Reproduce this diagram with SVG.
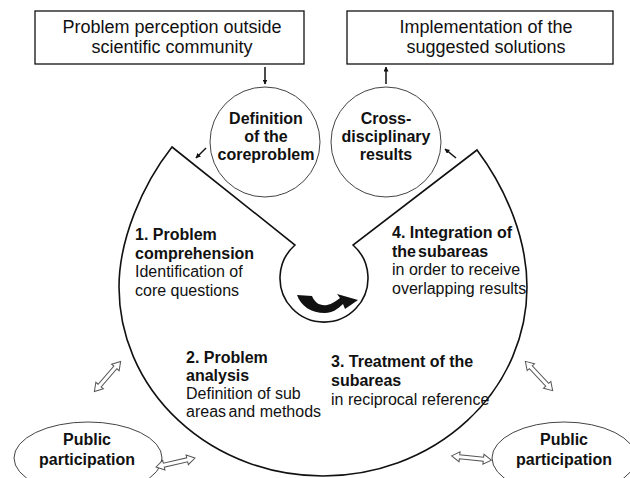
<svg xmlns="http://www.w3.org/2000/svg" width="630" height="478" viewBox="0 0 630 478">
<style>
text{font-family:"Liberation Sans",Arial,sans-serif;fill:#111}
.box{font-size:18px}
.b{font-size:16px;font-weight:bold}
.r{font-size:16px}
.rect{fill:#fff;stroke:#111;stroke-width:1.3}
.circ{fill:#fff;stroke:#444;stroke-width:1}
.thin{stroke:#111;stroke-width:1.5;fill:none}
.dbl{fill:#fff;stroke:#555;stroke-width:1}
</style>
<defs>
<marker id="ah" viewBox="0 0 10 10" refX="9" refY="5" markerWidth="5" markerHeight="5" orient="auto" markerUnits="userSpaceOnUse">
<path d="M0,0 L10,5 L0,10 Z" fill="#111"/>
</marker>
<path id="darr" d="M-20,0 L-12,-5 L-12,-2 L12,-2 L12,-5 L20,0 L12,5 L12,2 L-12,2 L-12,5 Z"/>
</defs>
<rect width="630" height="478" fill="#fff"/>

<g id="big-process">
<path d="M172,147 C142,185 119,240 119,287 A204,189 0 0 0 527,287 C527,240 507,190 477,150 L353,245 A44,44 0 1 1 295,245 Z" fill="#fff" stroke="#111" stroke-width="1.6"/>
<path d="M297,295 L312,296 C315,303 320,306 327,305 C332,304 336,301 340,298 L337,294 L358,300 L345,309 L343,304 C338,309 332,313 325,313 C311,313 301,306 297,295 Z" fill="#111"/>
<text class="b" x="135" y="240">1. Problem</text>
<text class="b" x="135" y="258.5">comprehension</text>
<text class="r" x="135" y="277">Identification of</text>
<text class="r" x="135" y="295.5">core questions</text>
<text class="b" x="392" y="238">4. Integration of</text>
<text class="b" x="392" y="256.5">the<tspan dx="2">subareas</tspan></text>
<text class="r" x="392" y="275">in order to receive</text>
<text class="r" x="392" y="293.5">overlapping results</text>
<text class="b" x="186" y="363">2. Problem</text>
<text class="b" x="186" y="381">analysis</text>
<text class="r" x="186" y="399">Definition of sub</text>
<text class="r" x="186" y="417">areas<tspan dx="2.5">and methods</tspan></text>
<text class="b" x="331" y="367">3. Treatment of the</text>
<text class="b" x="331" y="386">subareas</text>
<text class="r" x="331" y="405">in reciprocal reference</text>
</g>

<g id="box-perception">
<rect class="rect" x="35" y="11" width="269" height="53"/>
<text class="box" x="172" y="33" text-anchor="middle">Problem perception outside</text>
<text class="box" x="172" y="53" text-anchor="middle">scientific community</text>
</g>

<g id="box-implementation">
<rect class="rect" x="347" y="11" width="266" height="53"/>
<text class="box" x="486" y="33" text-anchor="middle">Implementation of the</text>
<text class="box" x="486" y="53" text-anchor="middle">suggested solutions</text>
</g>

<g id="circle-definition">
<circle class="circ" cx="265" cy="142" r="55"/>
<text class="b" x="266" y="124" text-anchor="middle">Definition</text>
<text class="b" x="266" y="142" text-anchor="middle">of the</text>
<text class="b" x="266" y="160" text-anchor="middle">coreproblem</text>
</g>

<g id="circle-results">
<circle class="circ" cx="386" cy="142" r="55"/>
<text class="b" x="386" y="124" text-anchor="middle">Cross-</text>
<text class="b" x="386" y="142" text-anchor="middle">disciplinary</text>
<text class="b" x="386" y="160" text-anchor="middle">results</text>
</g>

<g id="public-left">
<ellipse class="circ" cx="88" cy="458" rx="74" ry="36"/>
<text class="b" x="87" y="445" text-anchor="middle">Public</text>
<text class="b" x="87" y="465" text-anchor="middle">participation</text>
</g>

<g id="public-right">
<ellipse class="circ" cx="564" cy="458" rx="72" ry="36"/>
<text class="b" x="564" y="445" text-anchor="middle">Public</text>
<text class="b" x="564" y="465" text-anchor="middle">participation</text>
</g>

<g id="connectors">
<line class="thin" x1="265" y1="67" x2="265" y2="84" marker-end="url(#ah)"/>
<line class="thin" x1="386" y1="84" x2="386" y2="67" marker-end="url(#ah)"/>
<line class="thin" x1="206" y1="148" x2="196" y2="158" marker-end="url(#ah)"/>
<line class="thin" x1="456" y1="158" x2="445" y2="149" marker-end="url(#ah)"/>
<use href="#darr" class="dbl" transform="translate(107.5,376.5) rotate(-49)"/>
<use href="#darr" class="dbl" transform="translate(175.5,462.5) rotate(-13)"/>
<use href="#darr" class="dbl" transform="translate(539,376) rotate(47)"/>
<use href="#darr" class="dbl" transform="translate(471.5,458) rotate(6)"/>
</g>
</svg>
